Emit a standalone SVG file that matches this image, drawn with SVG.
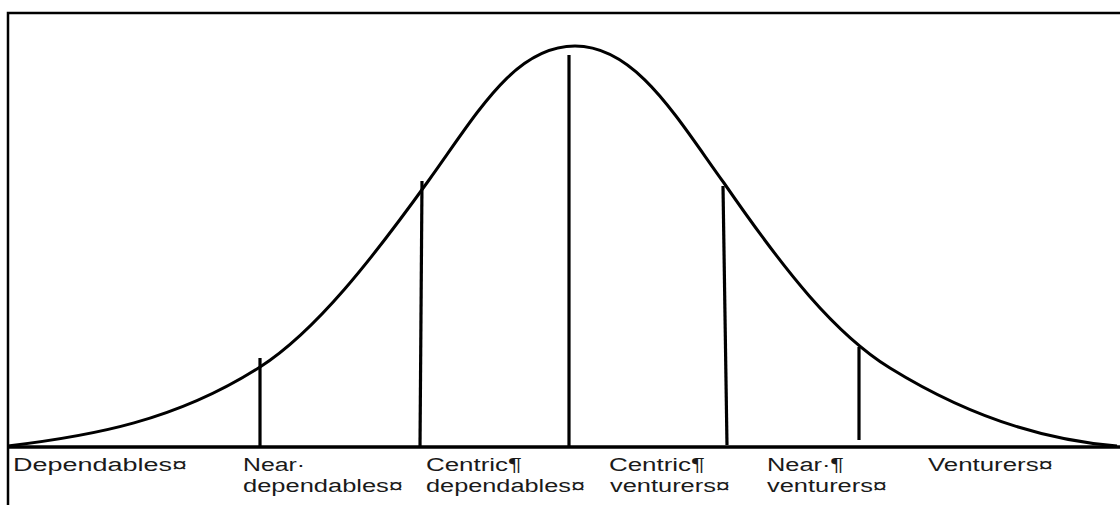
<svg xmlns="http://www.w3.org/2000/svg" width="1120" height="505" viewBox="0 0 1120 505">
<style>
.frame{fill:none;stroke:#000;stroke-width:2.5}
.axis{fill:none;stroke:#000;stroke-width:3.5}
.curve{fill:none;stroke:#000;stroke-width:3;stroke-linejoin:round}
.div{stroke:#000;stroke-width:3.2;stroke-linecap:butt}
.lbl{font-family:"Liberation Sans",Arial,sans-serif;font-size:18px;fill:#1a1a1a}
</style>
<rect width="1120" height="505" fill="#fff"/>
<g id="frame">
<path class="frame" d="M8,506 L8,13 L1121,13"/>
</g>
<g id="axis">
<line class="axis" x1="8" y1="447" x2="1120" y2="447"/>
</g>
<g id="curve">
<path class="curve" d="M8,446 C92,436 176,420.8 260,367 C316,331.2 373,257.8 429,180 C478,111.9 515,46 575,46 C635,46 675,115 724,183 C785,271.5 835,333.9 890,368 C966,415.1 1041,440 1117,446"/>
</g>
<g id="connectors">
<line class="div" x1="260" y1="358" x2="260" y2="447"/>
<line class="div" x1="422" y1="181" x2="420" y2="447"/>
<line class="div" x1="569" y1="55" x2="569" y2="447"/>
<line class="div" x1="723" y1="186" x2="727" y2="445"/>
<line class="div" x1="859" y1="347" x2="859" y2="440"/>
</g>
<g id="label-dependables">
<text class="lbl" x="13" y="471" textLength="174" lengthAdjust="spacingAndGlyphs">Dependables¤</text>
</g>
<g id="label-near-dependables">
<text class="lbl" x="243" y="471" textLength="62" lengthAdjust="spacingAndGlyphs">Near·</text>
<text class="lbl" x="243" y="492" textLength="160" lengthAdjust="spacingAndGlyphs">dependables¤</text>
</g>
<g id="label-centric-dependables">
<text class="lbl" x="426" y="471" textLength="96" lengthAdjust="spacingAndGlyphs">Centric¶</text>
<text class="lbl" x="426" y="492" textLength="159" lengthAdjust="spacingAndGlyphs">dependables¤</text>
</g>
<g id="label-centric-venturers">
<text class="lbl" x="609" y="471" textLength="96" lengthAdjust="spacingAndGlyphs">Centric¶</text>
<text class="lbl" x="610" y="492" textLength="120" lengthAdjust="spacingAndGlyphs">venturers¤</text>
</g>
<g id="label-near-venturers">
<text class="lbl" x="767" y="471" textLength="77" lengthAdjust="spacingAndGlyphs">Near·¶</text>
<text class="lbl" x="767" y="492" textLength="120" lengthAdjust="spacingAndGlyphs">venturers¤</text>
</g>
<g id="label-venturers">
<text class="lbl" x="928" y="471" textLength="125" lengthAdjust="spacingAndGlyphs">Venturers¤</text>
</g>
</svg>
